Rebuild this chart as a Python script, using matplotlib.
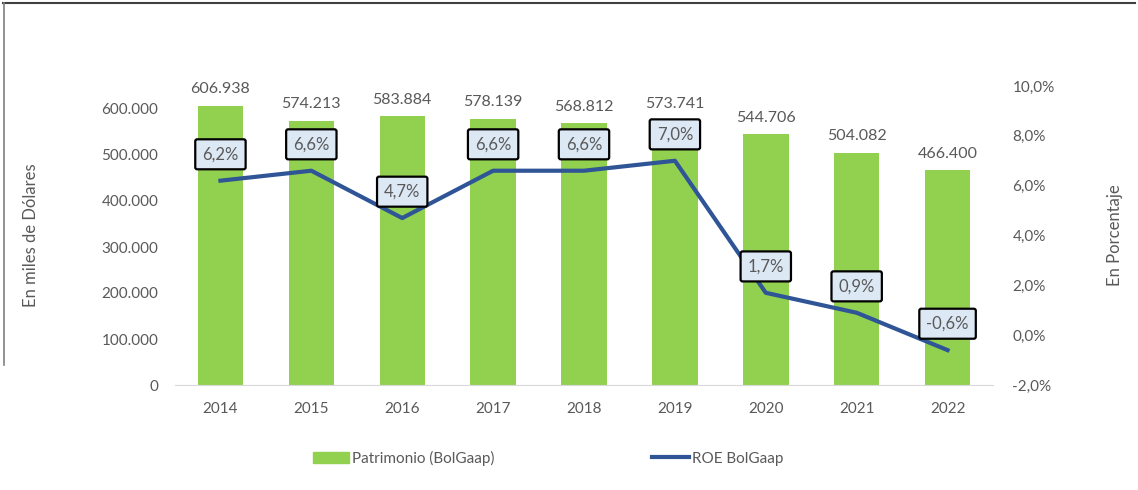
import matplotlib
matplotlib.use('Agg')
import matplotlib.pyplot as plt
from matplotlib.lines import Line2D
from matplotlib.patches import Patch

years = ['2014', '2015', '2016', '2017', '2018', '2019', '2020', '2021', '2022']
patrimonio = [606938, 574213, 583884, 578139, 568812, 573741, 544706, 504082, 466400]
roe = [6.2, 6.6, 4.7, 6.6, 6.6, 7.0, 1.7, 0.9, -0.6]

GREEN = '#92d050'
BLUE = '#2f5597'
GRAY = '#595959'

plt.rcParams['font.family'] = ['Lato', 'DejaVu Sans']


def fmt_miles(v):
    return f'{v:,.0f}'.replace(',', '.')


def fmt_pct(v, dec=1):
    return f'{v:.{dec}f}%'.replace('.', ',')


fig = plt.figure(figsize=(11.38, 4.9), dpi=100)
ax = fig.add_axes([175 / 1138, 105 / 490, 818 / 1138, 299 / 490])
ax2 = ax.twinx()

x = range(len(years))
ax.bar(x, patrimonio, width=0.5, color=GREEN, zorder=2)
for i, v in enumerate(patrimonio):
    ax.annotate(fmt_miles(v), (i, v), xytext=(0, 7), textcoords='offset points',
                ha='center', va='bottom', fontsize=11.5, color=GRAY)

ax.set_xlim(-0.5, len(years) - 0.5)
ax.set_ylim(0, 650000)
ax.set_yticks(range(0, 600001, 100000))
ax.set_yticklabels([fmt_miles(v) for v in range(0, 600001, 100000)])
ax.set_xticks(list(x))
ax.set_xticklabels(years)
ax.tick_params(axis='both', colors=GRAY, labelsize=11, length=0, pad=12)
for s in ['top', 'right', 'left']:
    ax.spines[s].set_visible(False)
ax.spines['bottom'].set_color('#d9d9d9')
ax.set_ylabel('En miles de Dólares', color=GRAY, fontsize=12, labelpad=45)

ax2.plot(list(x), roe, color=BLUE, linewidth=3, zorder=3)
ax2.set_ylim(-2, 10)
ax2.set_yticks(range(-2, 11, 2))
ax2.set_yticklabels([fmt_pct(v) for v in range(-2, 11, 2)])
ax2.tick_params(axis='y', colors=GRAY, labelsize=11, length=0, pad=14)
for s in ['top', 'right', 'left', 'bottom']:
    ax2.spines[s].set_visible(False)
ax2.set_ylabel('En Porcentaje', color=GRAY, fontsize=12, labelpad=38)
for i, v in enumerate(roe):
    ax2.annotate(fmt_pct(v), (i, v), xytext=(0, 19), textcoords='offset points',
                 ha='center', va='center', fontsize=12, color=GRAY, zorder=5,
                 bbox=dict(boxstyle='round,pad=0.42,rounding_size=0.12',
                           fc='#dde8f5', ec='black', lw=1.6))

handles = [Patch(color=GREEN), Line2D([0], [0], color=BLUE, lw=3)]
fig.legend(handles, ['Patrimonio (BolGaap)', 'ROE BolGaap'], loc='center',
           bbox_to_anchor=(548 / 1138, 1 - 458 / 490), ncol=2, frameon=False,
           fontsize=11, labelcolor=GRAY, columnspacing=10.3, handlelength=2.4,
           handletextpad=0.2)

# outer frame lines
fig.add_artist(Line2D([3 / 1138, 1135 / 1138], [1 - 3 / 490, 1 - 3 / 490],
                      color='#404040', lw=1.5))
fig.add_artist(Line2D([4 / 1138, 4 / 1138], [1 - 3 / 490, 1 - 365 / 490],
                      color='#808080', lw=1.2))

fig.savefig('out.png', dpi=100)
